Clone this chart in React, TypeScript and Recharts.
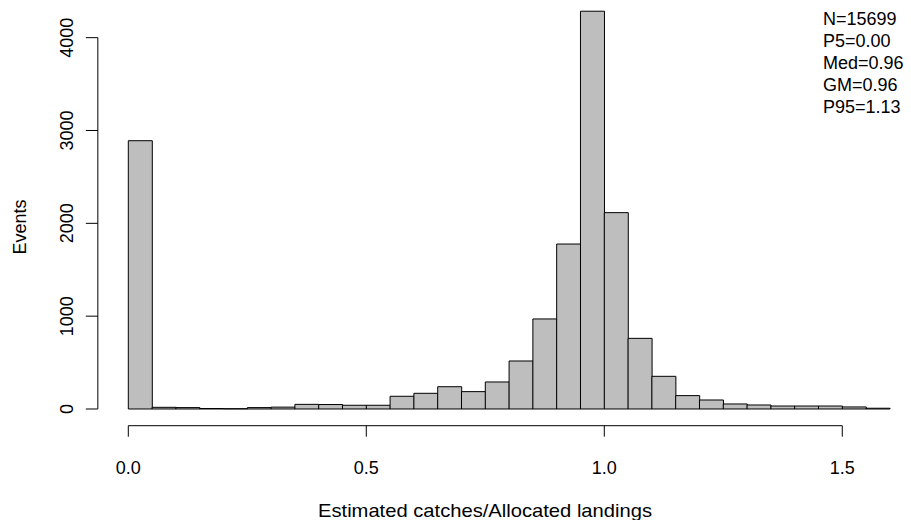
import React from 'react';
import { ComposedChart, Bar, XAxis, YAxis, ReferenceLine } from 'recharts';

// Histogram bins: lower edge of each 0.05-wide class
const binStart = [
  0.0, 0.05, 0.1, 0.15, 0.2, 0.25, 0.3, 0.35, 0.4, 0.45, 0.5, 0.55, 0.6, 0.65, 0.7, 0.75,
  0.8, 0.85, 0.9, 0.95, 1.0, 1.05, 1.1, 1.15, 1.2, 1.25, 1.3, 1.35, 1.4, 1.45, 1.5, 1.55,
];

// Event counts per bin
const events = [
  2890, 18, 15, 5, 3, 15, 20, 50, 48, 40, 40, 137, 169, 240, 187, 291,
  517, 970, 1777, 4285, 2115, 761, 352, 144, 97, 54, 43, 32, 32, 32, 22, 8,
];

const BIN_WIDTH = 0.05;

const xTicks = [0, 0.5, 1.0, 1.5];
const xTickLabels = ['0.0', '0.5', '1.0', '1.5'];
const yTicks = [0, 1000, 2000, 3000, 4000];

const statLines = ['N=15699', 'P5=0.00', 'Med=0.96', 'GM=0.96', 'P95=1.13'];

const xTitle = 'Estimated catches/Allocated landings';
const yTitle = 'Events';

const data = binStart.map((s, i) => ({ mid: s + BIN_WIDTH / 2, events: events[i] }));

const FONT = '"Liberation Sans", Arial, Helvetica, sans-serif';
const FONT_SIZE = 18;
const INK = '#000';

const X_DOMAIN: [number, number] = [-0.064, 1.632];
const Y_DOMAIN: [number, number] = [-180, 4400];

const XTick = (props: any) => {
  const { x, y, payload } = props;
  const idx = xTicks.indexOf(payload.value);
  return (
    <text
      x={x}
      y={y}
      textAnchor="middle"
      dominantBaseline="central"
      fontFamily={FONT}
      fontSize={FONT_SIZE}
      fill={INK}
    >
      {idx >= 0 ? xTickLabels[idx] : String(payload.value)}
    </text>
  );
};

const YTick = (props: any) => {
  const { x, y, payload } = props;
  return (
    <text
      x={x}
      y={y}
      transform={`rotate(-90, ${x}, ${y})`}
      textAnchor="middle"
      dominantBaseline="central"
      fontFamily={FONT}
      fontSize={FONT_SIZE}
      fill={INK}
    >
      {String(payload.value)}
    </text>
  );
};

const XTitle = () => (
  <text
    x={485}
    y={510}
    textAnchor="middle"
    dominantBaseline="central"
    fontFamily={FONT}
    fontSize={18.5}
    textLength={334}
    lengthAdjust="spacingAndGlyphs"
    fill={INK}
  >
    {xTitle}
  </text>
);

const YTitle = () => (
  <text
    x={20}
    y={227}
    transform="rotate(-90, 20, 227)"
    textAnchor="middle"
    dominantBaseline="central"
    fontFamily={FONT}
    fontSize={FONT_SIZE}
    fill={INK}
  >
    {yTitle}
  </text>
);

export default function App() {
  return (
    <div style={{ position: 'absolute', left: 0, top: 0, width: 911, height: 520, background: '#fff' }}>
      <ComposedChart
        width={911}
        height={520}
        data={data}
        margin={{ top: 0.535, right: 5.9, bottom: 34.3, left: 37.84 }}
        barCategoryGap={0}
        barGap={0}
      >
        <XAxis
          type="number"
          dataKey="mid"
          domain={X_DOMAIN}
          ticks={xTicks}
          interval={0}
          allowDataOverflow
          height={60}
          axisLine={false}
          tickLine={{ stroke: INK }}
          tickSize={11}
          tickMargin={31.3}
          tick={XTick}
          label={<XTitle />}
        />
        <YAxis
          type="number"
          domain={Y_DOMAIN}
          ticks={yTicks}
          interval={0}
          allowDataOverflow
          width={60}
          axisLine={false}
          tickLine={{ stroke: INK }}
          tickSize={12}
          tickMargin={18.8}
          tick={YTick}
          label={<YTitle />}
        />
        <Bar dataKey="events" fill="#bebebe" stroke={INK} strokeWidth={1} isAnimationActive={false} />
        <ReferenceLine
          segment={[{ x: xTicks[0], y: Y_DOMAIN[0] }, { x: xTicks[xTicks.length - 1], y: Y_DOMAIN[0] }]}
          stroke={INK}
          strokeWidth={1}
          ifOverflow="visible"
        />
        <ReferenceLine
          segment={[{ x: X_DOMAIN[0], y: yTicks[0] }, { x: X_DOMAIN[0], y: yTicks[yTicks.length - 1] }]}
          stroke={INK}
          strokeWidth={1}
          ifOverflow="visible"
        />
      </ComposedChart>
      <svg
        width={911}
        height={520}
        style={{ position: 'absolute', left: 0, top: 0, pointerEvents: 'none' }}
      >
        {statLines.map((t, i) => (
          <text
            key={t}
            x={823}
            y={25 + i * 21.9}
            fontFamily={FONT}
            fontSize={FONT_SIZE}
            fill={INK}
          >
            {t}
          </text>
        ))}
      </svg>
    </div>
  );
}
